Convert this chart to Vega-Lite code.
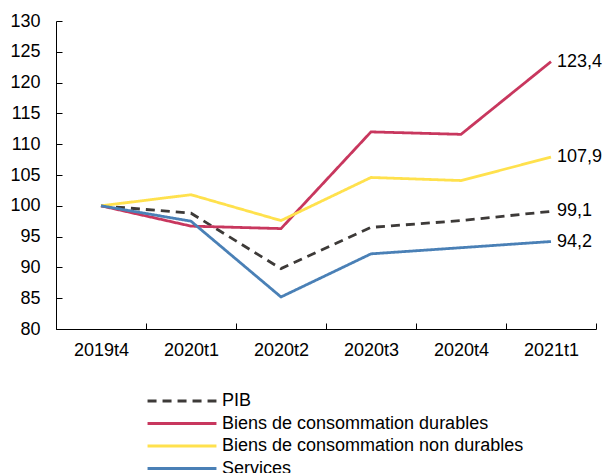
{
  "$schema": "https://vega.github.io/schema/vega-lite/v6.json",
  "width": 540,
  "height": 308,
  "autosize": {"type": "none"},
  "padding": {"left": 56, "top": 21, "right": 8, "bottom": 144},
  "background": "white",
  "config": {
    "font": "Liberation Sans",
    "view": {"stroke": null},
    "locale": {"number": {"decimal": ",", "thousands": " ", "grouping": [3], "currency": ["", " €"]}}
  },
  "data": {
    "values": [
      {"trimestre": "2019t4", "serie": "PIB", "valeur": 100},
      {"trimestre": "2020t1", "serie": "PIB", "valeur": 98.8},
      {"trimestre": "2020t2", "serie": "PIB", "valeur": 89.8},
      {"trimestre": "2020t3", "serie": "PIB", "valeur": 96.5},
      {"trimestre": "2020t4", "serie": "PIB", "valeur": 97.6},
      {"trimestre": "2021t1", "serie": "PIB", "valeur": 99.1},
      {"trimestre": "2019t4", "serie": "Biens de consommation durables", "valeur": 100},
      {"trimestre": "2020t1", "serie": "Biens de consommation durables", "valeur": 96.7},
      {"trimestre": "2020t2", "serie": "Biens de consommation durables", "valeur": 96.3},
      {"trimestre": "2020t3", "serie": "Biens de consommation durables", "valeur": 112.0},
      {"trimestre": "2020t4", "serie": "Biens de consommation durables", "valeur": 111.6},
      {"trimestre": "2021t1", "serie": "Biens de consommation durables", "valeur": 123.4},
      {"trimestre": "2019t4", "serie": "Biens de consommation non durables", "valeur": 100},
      {"trimestre": "2020t1", "serie": "Biens de consommation non durables", "valeur": 101.8},
      {"trimestre": "2020t2", "serie": "Biens de consommation non durables", "valeur": 97.6},
      {"trimestre": "2020t3", "serie": "Biens de consommation non durables", "valeur": 104.6},
      {"trimestre": "2020t4", "serie": "Biens de consommation non durables", "valeur": 104.1},
      {"trimestre": "2021t1", "serie": "Biens de consommation non durables", "valeur": 107.9},
      {"trimestre": "2019t4", "serie": "Services", "valeur": 100},
      {"trimestre": "2020t1", "serie": "Services", "valeur": 97.5},
      {"trimestre": "2020t2", "serie": "Services", "valeur": 85.2},
      {"trimestre": "2020t3", "serie": "Services", "valeur": 92.2},
      {"trimestre": "2020t4", "serie": "Services", "valeur": 93.2},
      {"trimestre": "2021t1", "serie": "Services", "valeur": 94.2}
    ]
  },
  "encoding": {
    "x": {
      "field": "trimestre",
      "type": "nominal",
      "sort": null,
      "scale": {"type": "band", "paddingInner": 0, "paddingOuter": 0},
      "axis": {
        "title": null,
        "labelAngle": 0,
        "labelFontSize": 18,
        "labelColor": "black",
        "labelPadding": 18,
        "domainColor": "black",
        "tickColor": "black",
        "tickSize": -6,
        "tickBand": "extent",
        "labelFlush": false
      }
    },
    "y": {
      "field": "valeur",
      "type": "quantitative",
      "scale": {"domain": [80, 130], "nice": false, "zero": false},
      "axis": {
        "title": null,
        "values": [80, 85, 90, 95, 100, 105, 110, 115, 120, 125, 130],
        "grid": false,
        "labelFontSize": 18,
        "labelColor": "black",
        "labelPadding": 22,
        "domainColor": "black",
        "tickColor": "black",
        "tickSize": -6
      }
    }
  },
  "layer": [
    {
      "mark": {"type": "line", "strokeWidth": 2.8},
      "encoding": {
        "color": {
          "field": "serie",
          "type": "nominal",
          "scale": {
            "domain": ["PIB", "Biens de consommation durables", "Biens de consommation non durables", "Services"],
            "range": ["#3d3a38", "#c8375e", "#ffe14d", "#4a80b6"]
          },
          "legend": {
            "title": null,
            "orient": "none",
            "legendX": 117,
            "legendY": 371,
            "direction": "vertical",
            "labelFontSize": 18,
            "labelColor": "black",
            "labelLimit": 400,
            "symbolType": "M-5,0H5",
            "symbolSize": 190,
            "symbolStrokeWidth": 3,
            "rowPadding": 4.5,
            "padding": 0,
            "labelOffset": 31
          }
        },
        "strokeDash": {
          "field": "serie",
          "type": "nominal",
          "scale": {
            "domain": ["PIB", "Biens de consommation durables", "Biens de consommation non durables", "Services"],
            "range": [[9, 6], [1, 0], [1, 0], [1, 0]]
          },
          "legend": null
        }
      }
    },
    {
      "transform": [{"filter": "datum.trimestre === '2021t1'"}],
      "mark": {"type": "text", "align": "left", "baseline": "middle", "dx": 6, "fontSize": 18, "color": "black"},
      "encoding": {
        "text": {"field": "valeur", "type": "quantitative", "format": ".1f"}
      }
    }
  ]
}
